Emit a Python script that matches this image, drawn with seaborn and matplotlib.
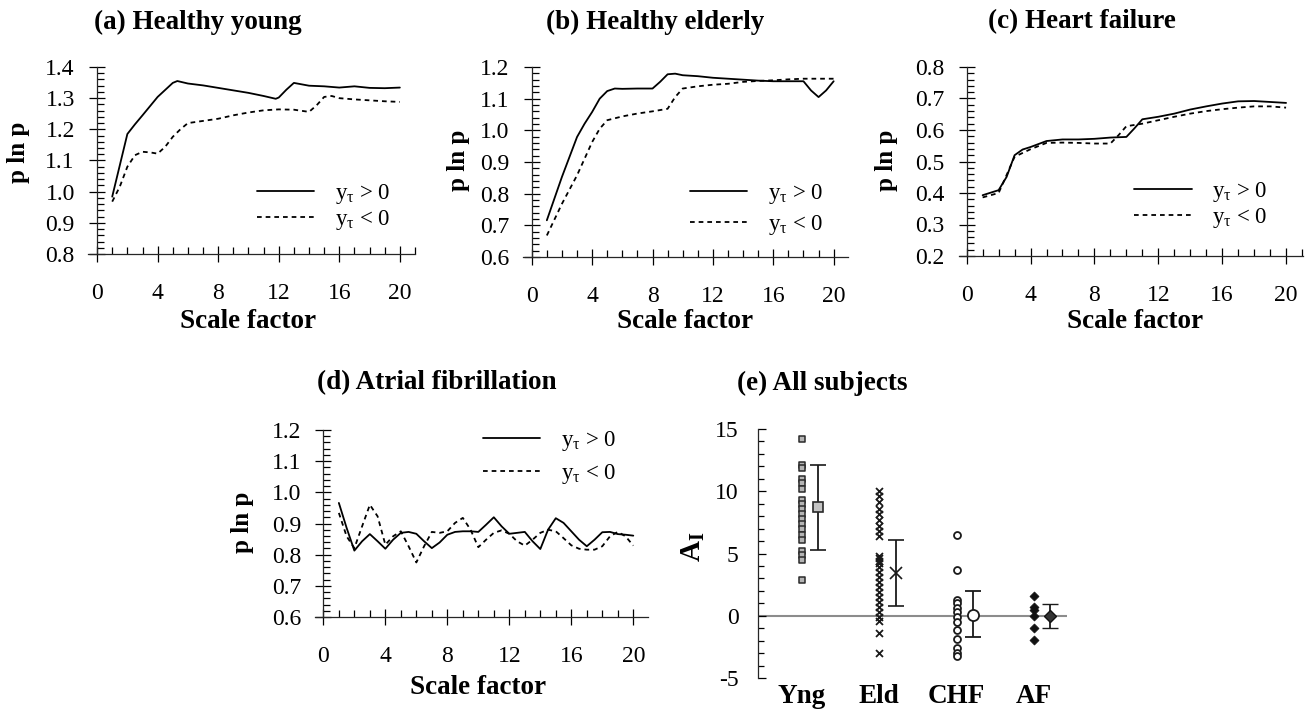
import numpy as np
import pandas as pd
import matplotlib
matplotlib.use('Agg')
import matplotlib.pyplot as plt
import seaborn as sns
from matplotlib.ticker import MultipleLocator, FormatStrFormatter
from matplotlib.lines import Line2D

# ---------------- data ----------------
a_pos_x = [1, 2, 2.5, 3, 4, 5, 5.3, 6, 7, 8, 9, 10, 11, 11.8, 12, 12.5, 13, 14, 15, 16, 17, 18, 19, 20]
a_pos_y = [0.984, 1.185, 1.216, 1.245, 1.304, 1.349, 1.355, 1.347, 1.341, 1.333, 1.325, 1.317, 1.307,
           1.298, 1.302, 1.327, 1.349, 1.340, 1.338, 1.334, 1.338, 1.333, 1.332, 1.334]
a_neg_x = [1, 1.5, 2, 2.5, 3, 3.5, 4, 4.5, 5, 5.5, 6, 7, 8, 9, 10, 11, 12, 13, 14, 14.5, 15, 15.5, 16, 17, 18, 19, 20]
a_neg_y = [0.968, 1.016, 1.080, 1.117, 1.128, 1.126, 1.122, 1.144, 1.176, 1.200, 1.220, 1.227, 1.234, 1.245,
           1.254, 1.261, 1.264, 1.263, 1.256, 1.277, 1.304, 1.307, 1.300, 1.296, 1.293, 1.290, 1.288]

b_pos_x = [1, 2, 3, 3.5, 4, 4.5, 5, 5.5, 6, 7, 8, 8.5, 9, 9.5, 10, 11, 12, 13, 14, 15, 16, 17, 18, 18.5, 19, 19.5, 20]
b_pos_y = [0.716, 0.853, 0.979, 1.021, 1.058, 1.100, 1.124, 1.132, 1.131, 1.132, 1.132, 1.153, 1.177, 1.179,
           1.174, 1.171, 1.166, 1.163, 1.160, 1.157, 1.155, 1.155, 1.155, 1.126, 1.105, 1.126, 1.155]
b_neg_x = [1, 2, 3, 4, 4.5, 5, 6, 7, 8, 9, 9.5, 10, 11, 12, 13, 14, 15, 16, 17, 18, 19, 20]
b_neg_y = [0.668, 0.768, 0.858, 0.963, 1.005, 1.032, 1.044, 1.053, 1.060, 1.068, 1.105, 1.132, 1.139, 1.144,
           1.147, 1.153, 1.156, 1.158, 1.161, 1.163, 1.163, 1.163]

c_pos_x = [1, 2, 2.5, 3, 3.5, 4, 5, 6, 7, 8, 9, 10, 10.5, 11, 12, 13, 14, 15, 16, 17, 18, 19, 20]
c_pos_y = [0.393, 0.409, 0.451, 0.520, 0.538, 0.546, 0.565, 0.570, 0.570, 0.572, 0.576, 0.578, 0.605, 0.634,
           0.642, 0.652, 0.665, 0.675, 0.684, 0.691, 0.692, 0.689, 0.686]
c_neg_x = [1, 2, 2.5, 3, 4, 5, 6, 7, 8, 9, 9.5, 10, 11, 12, 13, 14, 15, 16, 17, 18, 19, 20]
c_neg_y = [0.386, 0.400, 0.457, 0.515, 0.539, 0.559, 0.560, 0.559, 0.557, 0.557, 0.583, 0.612, 0.620, 0.631,
           0.642, 0.652, 0.660, 0.666, 0.671, 0.675, 0.675, 0.671]

d_x = [1, 1.5, 2, 2.5, 3, 3.5, 4, 4.5, 5, 5.5, 6, 6.5, 7, 7.5, 8, 8.5, 9, 9.5, 10, 10.5, 11, 11.5, 12, 12.5,
       13, 13.5, 14, 14.5, 15, 15.5, 16, 16.5, 17, 17.5, 18, 18.5, 19, 19.5, 20]
d_pos_y = [0.966, 0.886, 0.813, 0.843, 0.866, 0.843, 0.819, 0.848, 0.870, 0.873, 0.867, 0.843, 0.821, 0.839,
           0.864, 0.873, 0.875, 0.875, 0.873, 0.896, 0.920, 0.891, 0.867, 0.870, 0.873, 0.843, 0.818, 0.880,
           0.917, 0.902, 0.875, 0.848, 0.827, 0.848, 0.872, 0.873, 0.866, 0.864, 0.861]
d_neg_y = [0.934, 0.859, 0.821, 0.891, 0.960, 0.923, 0.832, 0.859, 0.875, 0.827, 0.775, 0.827, 0.873, 0.870,
           0.875, 0.902, 0.918, 0.880, 0.824, 0.848, 0.870, 0.878, 0.867, 0.843, 0.829, 0.848, 0.870, 0.880,
           0.875, 0.853, 0.830, 0.819, 0.816, 0.816, 0.827, 0.859, 0.873, 0.859, 0.829]

groups = ['Yng', 'Eld', 'CHF', 'AF']
yng_vals = [14.2, 12.1, 11.9, 11.0, 10.7, 10.2, 9.3, 9.0, 8.6, 8.2, 7.8, 7.4, 7.0, 6.5, 6.1, 5.2, 4.9, 4.5, 2.9]
eld_vals = [10.0, 9.6, 9.1, 8.6, 8.2, 7.7, 7.2, 6.8, 6.4, 4.8, 4.6, 4.4, 4.2, 3.9, 3.5, 3.1, 2.7, 2.3,
            1.9, 1.5, 1.1, 0.7, 0.3, -0.1, -0.4, -1.4, -3.0]
chf_vals = [6.5, 3.7, 1.3, 1.0, 0.65, 0.3, -0.1, -0.5, -1.15, -1.9, -2.6, -3.0, -3.25]
af_vals = [1.6, 0.7, 0.45, 0.0, -0.95, -1.95]
group_mean = [8.7, 3.4, 0.1, 0.0]
group_low = [5.3, 0.8, -1.7, -1.0]
group_high = [12.1, 6.1, 2.0, 0.95]

leg_labels = [r'y$_{\mathregular{τ}}$ > 0', r'y$_{\mathregular{τ}}$ < 0']

# ---------------- style ----------------
sns.set_theme(style='ticks')
plt.rcParams['font.family'] = ['Liberation Serif', 'DejaVu Serif']
plt.rcParams['mathtext.fontset'] = 'custom'
plt.rcParams['mathtext.rm'] = 'Liberation Serif'
plt.rcParams['mathtext.it'] = 'Liberation Serif:italic'
plt.rcParams['mathtext.bf'] = 'Liberation Serif:bold'
plt.rcParams['axes.unicode_minus'] = False
plt.rcParams['axes.linewidth'] = 0.9
plt.rcParams['text.color'] = 'black'
plt.rcParams['axes.labelcolor'] = 'black'
plt.rcParams['xtick.color'] = 'black'
plt.rcParams['ytick.color'] = 'black'

W, H = 1310, 711
fig = plt.figure(figsize=(W / 100, H / 100), dpi=100)
fig.patch.set_facecolor('white')


def px_axes(left, top, right, bottom):
    return fig.add_axes([left / W, 1 - bottom / H, (right - left) / W, (bottom - top) / H])


DASH = (0, (2.6, 2.2))
LW = 1.3
TICK_FS = 17
LAB_FS = 19.5
LEG_FS = 16.5


def line_panel(box, xlim, ylim, pos, neg, leg_xy, leg_sp):
    ax = px_axes(*box)
    ax.set_facecolor('white')
    sns.lineplot(x=pos[0], y=pos[1], ax=ax, color='black', lw=LW, estimator=None, sort=False)
    sns.lineplot(x=neg[0], y=neg[1], ax=ax, color='black', lw=LW, linestyle=DASH,
                 estimator=None, sort=False)
    ax.set_xlim(*xlim)
    ax.set_ylim(*ylim)
    ax.spines['left'].set_position(('data', 0))
    ax.spines['top'].set_visible(False)
    ax.spines['right'].set_visible(False)
    ax.xaxis.set_major_locator(MultipleLocator(4))
    ax.xaxis.set_minor_locator(MultipleLocator(1))
    ax.yaxis.set_major_locator(MultipleLocator(0.1))
    ax.yaxis.set_minor_locator(MultipleLocator(0.02))
    ax.yaxis.set_major_formatter(FormatStrFormatter('%.1f'))
    ax.tick_params(which='major', direction='inout', length=12, width=0.9, labelsize=TICK_FS)
    ax.tick_params(which='minor', direction='in', length=5, width=0.9)
    ax.tick_params(axis='x', which='major', pad=15)
    ax.tick_params(axis='y', which='major', pad=10)
    ax.set_xlabel('')
    ax.set_ylabel('')
    handles = [Line2D([], [], color='black', lw=LW), Line2D([], [], color='black', lw=LW, ls=DASH)]
    ax.legend(handles, leg_labels, loc='center left', bbox_to_anchor=leg_xy, frameon=False,
              fontsize=LEG_FS, handlelength=2.5, handletextpad=0.9, labelspacing=leg_sp,
              borderpad=0, borderaxespad=0)
    return ax


line_panel((88, 67, 415, 254), (-0.6, 21.0), (0.8, 1.4), (a_pos_x, a_pos_y), (a_neg_x, a_neg_y),
           (0.517, 0.25), 0.1)
line_panel((523, 67, 848, 257), (-0.58, 20.95), (0.6, 1.2), (b_pos_x, b_pos_y), (b_neg_x, b_neg_y),
           (0.514, 0.25), 0.3)
line_panel((959, 67, 1303, 256), (-0.48, 21.06), (0.2, 0.8), (c_pos_x, c_pos_y), (c_neg_x, c_neg_y),
           (0.51, 0.27), 0.05)
line_panel((315, 430, 648, 617), (-0.54, 20.95), (0.6, 1.2), (d_x, d_pos_y), (d_x, d_neg_y),
           (0.505, 0.855), 0.4)

# ---------------- panel (e) ----------------
axe = px_axes(758, 429, 1067, 678)
axe.set_facecolor('white')
df = pd.DataFrame({
    'group': ['Yng'] * len(yng_vals) + ['Eld'] * len(eld_vals) + ['CHF'] * len(chf_vals) + ['AF'] * len(af_vals),
    'value': yng_vals + eld_vals + chf_vals + af_vals,
})
axe.axhline(0, color='#8c8c8c', lw=1.5, zorder=0)
styles = {
    'Yng': dict(marker='s', color='#b4b4b4', edgecolor='#2a2a2a', linewidth=1.1, size=4.8),
    'Eld': dict(marker='x', color='#1a1a1a', linewidth=1.3, size=5.0),
    'CHF': dict(marker='o', color='white', edgecolor='#1a1a1a', linewidth=1.3, size=5.0),
    'AF': dict(marker='D', color='#111111', edgecolor='#111111', linewidth=0.5, size=4.6),
}
for g in groups:
    sns.stripplot(data=df[df['group'] == g], x='group', y='value', order=groups, jitter=False,
                  ax=axe, zorder=3, **styles[g])
mean_style = {
    'Yng': dict(fmt='s', ms=7, mfc='#c4c4c4', mec='#2a2a2a', mew=1.2),
    'Eld': dict(fmt='x', ms=9, mec='#1a1a1a', mew=1.2),
    'CHF': dict(fmt='o', ms=8, mfc='white', mec='#1a1a1a', mew=1.3),
    'AF': dict(fmt='D', ms=6, mfc='#333333', mec='#111111', mew=1.0),
}
for i, g in enumerate(groups):
    axe.errorbar([i + 0.21], [group_mean[i]],
                 yerr=[[group_mean[i] - group_low[i]], [group_high[i] - group_mean[i]]],
                 ecolor='#1a1a1a', elinewidth=1.3, capsize=6, capthick=1.3, zorder=4, **mean_style[g])
axe.set_xlim(-0.57, 3.43)
axe.set_ylim(-5, 15)
for s in ['top', 'right', 'bottom']:
    axe.spines[s].set_visible(False)
axe.yaxis.set_major_locator(MultipleLocator(5))
axe.yaxis.set_minor_locator(MultipleLocator(1))
axe.tick_params(axis='y', which='major', direction='in', length=6, width=0.9, labelsize=TICK_FS, pad=14)
axe.tick_params(axis='y', which='minor', direction='in', length=4.5, width=0.9)
axe.tick_params(axis='x', length=0, pad=4)
for lab in axe.get_xticklabels():
    lab.set_fontsize(LAB_FS)
    lab.set_fontweight('bold')
axe.set_xlabel('')
axe.set_ylabel('')

# ---------------- text ----------------
def ftext(x, y, s, **kw):
    fig.text(x / W, 1 - y / H, s, ha='center', va='center', **kw)

ftext(198, 22, '(a) Healthy young', fontsize=LAB_FS, fontweight='bold')
ftext(655, 22, '(b) Healthy elderly', fontsize=LAB_FS, fontweight='bold')
ftext(1082, 22, '(c) Heart failure', fontsize=LAB_FS, fontweight='bold')
ftext(437, 383, '(d) Atrial fibrillation', fontsize=LAB_FS, fontweight='bold')
ftext(822, 383, '(e) All subjects', fontsize=LAB_FS, fontweight='bold')

ftext(248, 321, 'Scale factor', fontsize=LAB_FS, fontweight='bold')
ftext(685, 321, 'Scale factor', fontsize=LAB_FS, fontweight='bold')
ftext(1135, 321, 'Scale factor', fontsize=LAB_FS, fontweight='bold')
ftext(478, 687, 'Scale factor', fontsize=LAB_FS, fontweight='bold')

ftext(18, 152, 'p ln p', fontsize=18, fontweight='bold', rotation=90)
ftext(459, 160, 'p ln p', fontsize=18, fontweight='bold', rotation=90)
ftext(886, 160, 'p ln p', fontsize=18, fontweight='bold', rotation=90)
ftext(242, 522, 'p ln p', fontsize=18, fontweight='bold', rotation=90)
ftext(693, 547, r'A$_{\mathregular{I}}$', fontsize=21, fontweight='bold', rotation=90)

fig.savefig('out.png', dpi=100, facecolor='white')
